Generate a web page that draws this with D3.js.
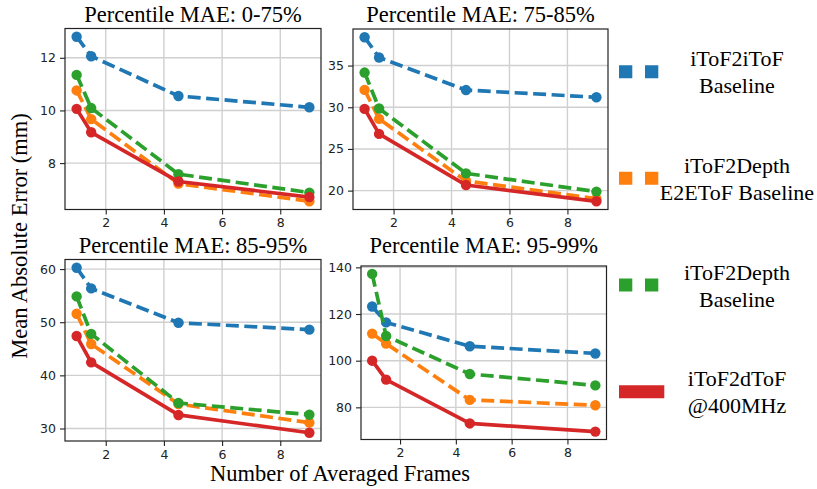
<!DOCTYPE html>
<html>
<head>
<meta charset="utf-8">
<script src="https://cdn.jsdelivr.net/npm/d3@7"></script>
<style>
  html, body { margin: 0; padding: 0; background: #ffffff; }
  svg { display: block; }
</style>
</head>
<body>
<svg id="chart" width="817" height="489"></svg>
<script>
// Number of averaged frames (shared x values)
const frames = [1, 1.5, 4.5, 9];

// Series names and colours
const seriesNames = [
  ["iToF2iToF", "Baseline"],
  ["iToF2Depth", "E2EToF Baseline"],
  ["iToF2Depth", "Baseline"],
  ["iToF2dToF", "@400MHz"]
];
const seriesColors = ["#1f77b4", "#ff7f0e", "#2ca02c", "#d62728"];
const seriesDashed = [true, true, true, false];

// Panel titles
const panelTitles = [
  "Percentile MAE: 0-75%",
  "Percentile MAE: 75-85%",
  "Percentile MAE: 85-95%",
  "Percentile MAE: 95-99%"
];

// MAE (mm) per panel, per series: [iToF2iToF, E2EToF, iToF2Depth, iToF2dToF]
const mae0to75 = [
  [12.8, 12.06, 10.55, 10.12],
  [10.76, 9.67, 7.22, 6.55],
  [11.35, 10.09, 7.58, 6.88],
  [10.06, 9.17, 7.30, 6.71]
];
const mae75to85 = [
  [38.4, 35.96, 32.06, 31.2],
  [32.08, 28.6, 21.15, 19.04],
  [34.16, 29.85, 22.07, 19.88],
  [29.8, 26.8, 20.67, 18.72]
];
const mae85to95 = [
  [60.25, 56.36, 49.9, 48.6],
  [51.6, 45.9, 34.6, 31.1],
  [54.86, 47.8, 34.8, 32.6],
  [47.4, 42.45, 32.55, 29.2]
];
const mae95to99 = [
  [123.2, 116.4, 106.2, 103.1],
  [111.6, 107.3, 83.2, 80.9],
  [137.2, 110.6, 94.3, 89.4],
  [100.0, 91.9, 73.1, 69.6]
];

// Tick labels
const xTicks = [2, 4, 6, 8];
const yTicks0to75 = [8, 10, 12];
const yTicks75to85 = [20, 25, 30, 35];
const yTicks85to95 = [30, 40, 50, 60];
const yTicks95to99 = [80, 100, 120, 140];

const panelData = [mae0to75, mae75to85, mae85to95, mae95to99];
const panelYTicks = [yTicks0to75, yTicks75to85, yTicks85to95, yTicks95to99];

// Axes rectangles [left, top, right, bottom]
const boxes = [
  [65, 28.5, 321, 209.5],
  [353, 29, 608, 209.5],
  [65, 259.5, 321, 441],
  [361, 266, 606.5, 439.5]
];
const titleBaselines = [21.5, 21.5, 253, 253];

const serif = "'Liberation Serif', 'Times New Roman', serif";
const sans = "'DejaVu Sans', sans-serif";

const svg = d3.select("#chart");

// Domain with 5% padding on each side
function padded(extent) {
  const span = extent[1] - extent[0];
  return [extent[0] - 0.05 * span, extent[1] + 0.05 * span];
}

const xDomain = padded(d3.extent(frames));

panelData.forEach((data, p) => {
  const [l, t, r, b] = boxes[p];
  const x = d3.scaleLinear().domain(xDomain).range([l, r]);
  const allVals = data.flat();
  const y = d3.scaleLinear().domain(padded(d3.extent(allVals))).range([b, t]);

  const g = svg.append("g");

  // grid
  g.append("g").selectAll("line").data(xTicks).join("line")
    .attr("x1", d => x(d)).attr("x2", d => x(d))
    .attr("y1", t).attr("y2", b)
    .attr("stroke", "#d0d0d0").attr("stroke-width", 1.4);
  g.append("g").selectAll("line").data(panelYTicks[p]).join("line")
    .attr("x1", l).attr("x2", r)
    .attr("y1", d => y(d)).attr("y2", d => y(d))
    .attr("stroke", "#d0d0d0").attr("stroke-width", 1.4);

  // axes
  const xAxis = d3.axisBottom(x).tickValues(xTicks).tickSize(5).tickPadding(4)
    .tickFormat(d3.format("d"));
  const yAxis = d3.axisLeft(y).tickValues(panelYTicks[p]).tickSize(5).tickPadding(4)
    .tickFormat(d3.format("d"));

  const gx = g.append("g").attr("transform", `translate(0,${b})`).call(xAxis);
  const gy = g.append("g").attr("transform", `translate(${l},0)`).call(yAxis);
  [gx, gy].forEach(ax => {
    ax.select(".domain").remove();
    ax.selectAll(".tick line").attr("stroke", "#222").attr("stroke-width", 1.1);
    ax.selectAll(".tick text").attr("fill", "#222")
      .style("font-family", sans).style("font-size", "12.5px");
  });

  // lines and markers
  const line = d3.line().x((d, i) => x(frames[i])).y(d => y(d));
  data.forEach((vals, s) => {
    g.append("path")
      .attr("d", line(vals))
      .attr("fill", "none")
      .attr("stroke", seriesColors[s])
      .attr("stroke-width", 3.7)
      .attr("stroke-dasharray", seriesDashed[s] ? "13,5.5" : null)
      .attr("stroke-linejoin", "round");
    g.append("g").selectAll("circle").data(vals).join("circle")
      .attr("cx", (d, i) => x(frames[i]))
      .attr("cy", d => y(d))
      .attr("r", 5.2)
      .attr("fill", seriesColors[s]);
  });

  // frame
  g.append("rect")
    .attr("x", l).attr("y", t)
    .attr("width", r - l).attr("height", b - t)
    .attr("fill", "none").attr("stroke", "#222").attr("stroke-width", 1.2);

  // title
  svg.append("text")
    .attr("x", (l + r) / 2).attr("y", titleBaselines[p])
    .attr("text-anchor", "middle")
    .style("font-family", serif).style("font-size", "22.5px")
    .text(panelTitles[p]);
});

// axis labels
svg.append("text")
  .attr("x", 340).attr("y", 481)
  .attr("text-anchor", "middle")
  .style("font-family", serif).style("font-size", "22.5px")
  .text("Number of Averaged Frames");

svg.append("text")
  .attr("transform", "translate(27,236) rotate(-90)")
  .attr("text-anchor", "middle")
  .style("font-family", serif).style("font-size", "22.5px")
  .text("Mean Absolute Error (mm)");

// legend
const legendY = d3.scalePoint().domain(d3.range(seriesNames.length)).range([71.7, 391.7]);
const legend = svg.append("g");
seriesNames.forEach((name, s) => {
  const cy = legendY(s);
  legend.append("line")
    .attr("x1", 619).attr("x2", seriesDashed[s] ? 658.3 : 664.3)
    .attr("y1", cy).attr("y2", cy)
    .attr("stroke", seriesColors[s])
    .attr("stroke-width", 13)
    .attr("stroke-dasharray", seriesDashed[s] ? "13.3,12.7" : null);
  name.forEach((txt, k) => {
    legend.append("text")
      .attr("x", 737).attr("y", cy + 8 + (k === 0 ? -13.5 : 13.5))
      .attr("text-anchor", "middle")
      .style("font-family", serif).style("font-size", "22px")
      .text(txt);
  });
});
</script>
</body>
</html>
